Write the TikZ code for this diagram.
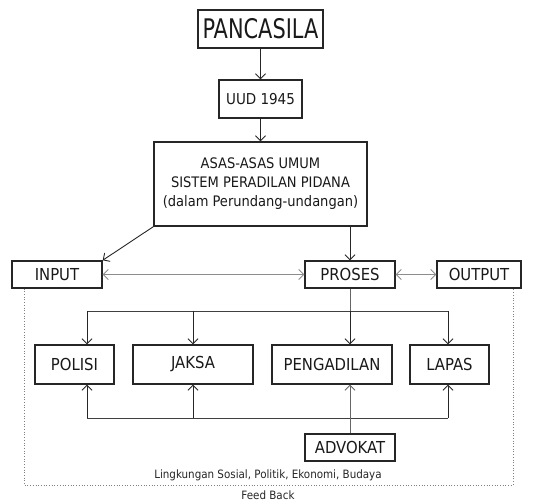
\documentclass[tikz,border=0pt]{standalone}
\usepackage{fontspec}
\setmainfont{DejaVu Sans Condensed}
\usetikzlibrary{arrows.meta,calc}
\begin{document}
\begin{tikzpicture}[x=1pt,y=-1pt,
  box/.style={draw=black!85,line width=1.4pt,inner sep=0pt,align=center,text=black!90},
  arr/.style={draw=black!85,line width=0.9pt,-{Straight Barb[length=5pt,width=10pt]}},
  garr/.style={draw=black!45,line width=0.9pt,{Straight Barb[length=5pt,width=10pt]}-{Straight Barb[length=5pt,width=10pt]}},
  ln/.style={draw=black!75,line width=0.9pt},
  lbl/.style={font=\fontsize{16.5}{18}\selectfont}]
\useasboundingbox (0,0) rectangle (533,502);
\node[box,minimum width=125pt,minimum height=38pt,font=\fontsize{27}{28}\selectfont] (pan) at (260.5,29) {\scalebox{0.86}[1]{PANCASILA}};
\node[box,minimum width=83pt,minimum height=38pt,font=\fontsize{15}{17}\selectfont] (uud) at (260.5,99) {UUD 1945};
\node[box,minimum width=213pt,minimum height=84pt,font=\fontsize{14.5}{19}\selectfont] (asas) at (260.5,184) {ASAS-ASAS UMUM\\SISTEM PERADILAN PIDANA\\(dalam Perundang-undangan)};
\node[box,lbl,minimum width=90pt,minimum height=27pt] (input) at (57,274.5) {INPUT};
\node[box,lbl,minimum width=90pt,minimum height=27pt] (proses) at (350,274.5) {PROSES};
\node[box,lbl,minimum width=84pt,minimum height=27pt] (output) at (479,274.5) {OUTPUT};
\node[box,lbl,minimum width=79pt,minimum height=39pt] (polisi) at (74.5,364.5) {POLISI};
\node[box,lbl,minimum width=120pt,minimum height=39pt] (jaksa) at (193,364.5) {JAKSA};
\node[box,lbl,minimum width=120pt,minimum height=39pt] (peng) at (332,364.5) {PENGADILAN};
\node[box,lbl,minimum width=79pt,minimum height=39pt] (lapas) at (449.5,364.5) {LAPAS};
\node[box,lbl,minimum width=90pt,minimum height=27pt] (adv) at (350,447.5) {ADVOKAT};
\node[font=\fontsize{11.5}{14}\selectfont,text=black!85] (ling) at (268,475) {Lingkungan Sosial, Politik, Ekonomi, Budaya};
\node[font=\fontsize{11.5}{14}\selectfont,text=black!85] (fb) at (268,495) {Feed Back};
% coordinates
\coordinate (t1) at (87,311);
\coordinate (t2) at (193,311);
\coordinate (t3) at (350,311);
\coordinate (t4) at (448,311);
\coordinate (b1) at (87,418);
\coordinate (b2) at (193,418);
\coordinate (b3) at (350,418);
\coordinate (b4) at (448,418);
\coordinate (d1) at (24,485);
\coordinate (d2) at (513,485);
% top chain
\draw[arr] (pan) -- (uud);
\draw[arr] (uud) -- (asas);
\draw[arr] (asas.south west) -- (input.north east);
\draw[arr] (proses.north |- asas.south) -- (proses.north);
% gray double arrows
\draw[garr] (input) -- (proses);
\draw[garr] (proses) -- (output);
% dotted environment
\draw[black!50,dotted,line width=0.7pt] (input.south -| d1) -- (d1) -- (d2) -- (output.south -| d2);
% top bus
\draw[ln,black!60] (proses.south) -- (t3);
\draw[ln] (t1) -- (t4);
\draw[arr] (t1) -- (polisi.north -| t1);
\draw[arr] (t2) -- (jaksa.north -| t2);
\draw[arr] (t3) -- (peng.north -| t3);
\draw[arr] (t4) -- (lapas.north -| t4);
% bottom bus
\draw[ln] (b1) -- (b4);
\draw[arr] (b1) -- (polisi.south -| b1);
\draw[arr] (b2) -- (jaksa.south -| b2);
\draw[arr] (b4) -- (lapas.south -| b4);
\draw[arr,black!60] (adv.north) -- (peng.south -| adv.north);
\end{tikzpicture}
\end{document}
